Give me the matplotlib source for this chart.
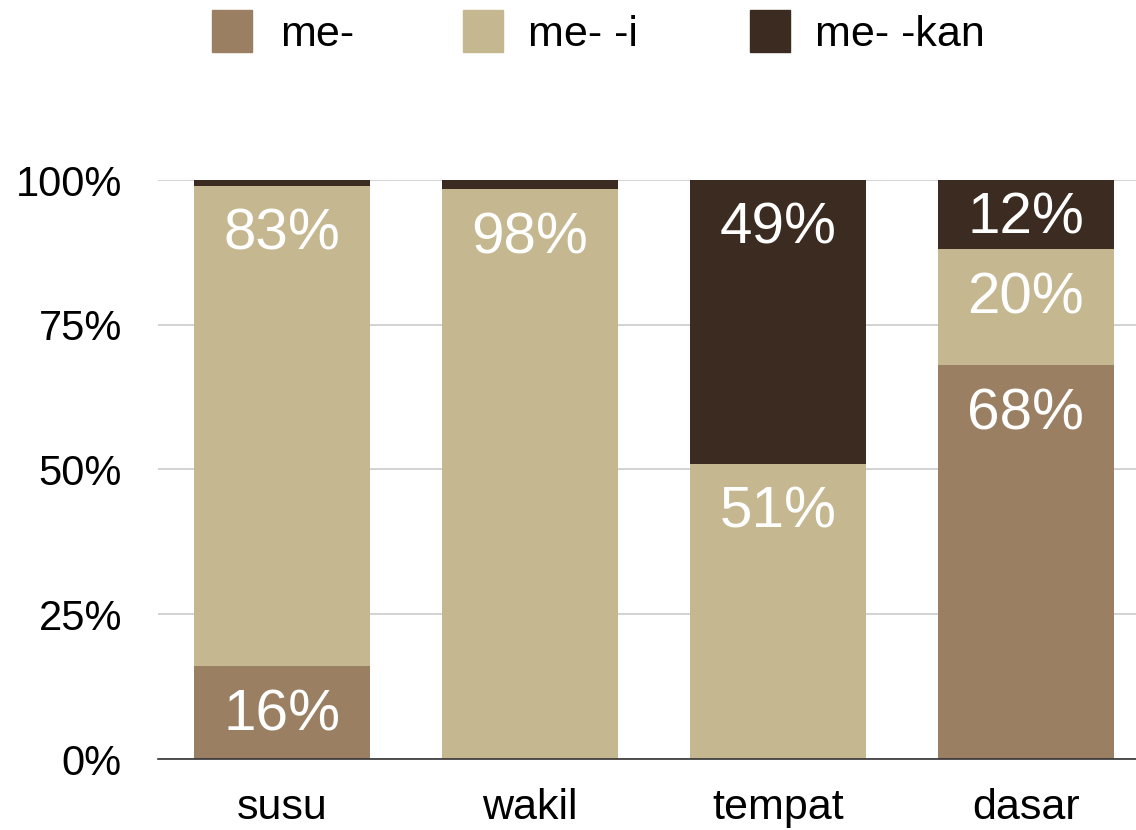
import matplotlib
matplotlib.use('Agg')
from matplotlib import pyplot as plt
from matplotlib.patches import Rectangle

categories = ['susu', 'wakil', 'tempat', 'dasar']
series_names = ['me-', 'me- -i', 'me- -kan']
me = [16, 0, 0, 68]
me_i = [83, 98.4, 51, 20]
me_kan = [1, 1.6, 49, 12]
colors = ['#9A7F63', '#C5B790', '#3B2B20']
yticks = [0, 25, 50, 75, 100]

plt.rcParams['font.family'] = ['Liberation Sans', 'DejaVu Sans']

W, H = 1136, 830
fig = plt.figure(figsize=(W/100, H/100), dpi=100)
ax = fig.add_axes([158/W, 1-759/H, 1-158/W, (759-180)/H])

x = list(range(len(categories)))
bottoms = [0]*len(categories)
for name, vals, col in zip(series_names, [me, me_i, me_kan], colors):
    ax.bar(x, vals, bottom=bottoms, width=0.71, color=col, label=name, zorder=2)
    for i, v in enumerate(vals):
        if v >= 10:
            top = bottoms[i] + v
            seg_px = v * 5.79
            off = min(22, (seg_px - 46) / 2)
            ax.annotate('%d%%' % round(v), (i, top), xytext=(0, -off*0.72),
                        textcoords='offset points', ha='center', va='top',
                        color='white', fontsize=42, zorder=3)
    bottoms = [b + v for b, v in zip(bottoms, vals)]

ax.set_xlim(-0.5, 3.445)
ax.set_ylim(0, 100)
ax.set_yticks(yticks)
ax.set_yticklabels(['%d%%' % t for t in yticks], fontsize=30)
ax.set_xticks(x)
ax.set_xticklabels(categories, fontsize=31)
ax.tick_params(axis='y', length=0, pad=26)
ax.tick_params(axis='x', length=0, pad=21)
ax.yaxis.grid(True, color='#CCCCCC', linewidth=1.2, zorder=0)
ax.set_axisbelow(True)
for s in ['top', 'right', 'left']:
    ax.spines[s].set_visible(False)
ax.spines['bottom'].set_color('#333333')
ax.spines['bottom'].set_linewidth(1.2)
ax.spines['bottom'].set_zorder(4)

# legend drawn by hand so the spacing matches
box_x = [212, 463, 750]
txt_x = [280, 528, 815]
for bx, tx, c, n in zip(box_x, txt_x, colors, series_names):
    fig.add_artist(Rectangle((bx/W, 1-52/H), 40/W, 42/H, color=c,
                             transform=fig.transFigure))
    fig.text(tx/W, 1-35/H, n, fontsize=31, va='center', ha='left')

fig.savefig('out.png', dpi=100)
